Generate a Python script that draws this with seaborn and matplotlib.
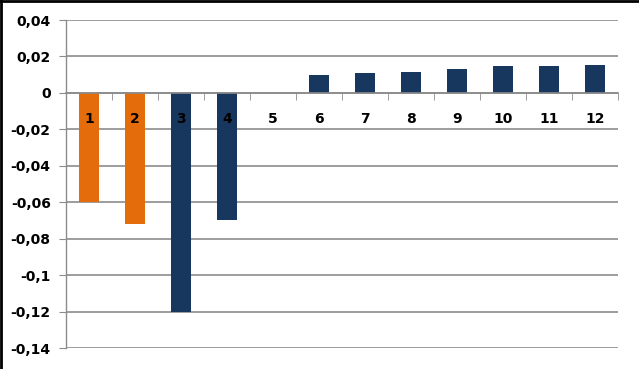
import matplotlib
matplotlib.use("Agg")
import matplotlib.pyplot as plt
import matplotlib.ticker as mticker
from matplotlib.lines import Line2D
import seaborn as sns
import pandas as pd

# Data
categories = ["1", "2", "3", "4", "5", "6", "7", "8", "9", "10", "11", "12"]
values = [-0.06, -0.072, -0.12, -0.07, 0.0, 0.01, 0.011, 0.0115, 0.013, 0.0145, 0.0145, 0.0152]
bar_colors = ["#E46C0A", "#E46C0A"] + ["#17375E"] * 10
y_ticks = [0.04, 0.02, 0, -0.02, -0.04, -0.06, -0.08, -0.1, -0.12, -0.14]

df = pd.DataFrame({"cat": categories, "val": values})

sns.set_style("white")
plt.rcParams["font.family"] = ["DejaVu Sans"]

dpi = 100
fig = plt.figure(figsize=(639 / dpi, 369 / dpi), dpi=dpi)
ax = fig.add_axes([66 / 639, 1 - 348 / 369, 552 / 639, 328 / 369])

sns.barplot(data=df, x="cat", y="val", hue="cat", palette=bar_colors,
            legend=False, width=0.43, saturation=1, linewidth=0,
            ax=ax, order=categories)

ax.set_ylim(-0.14, 0.04)
ax.set_xlim(-0.5, len(categories) - 0.5)
ax.set_yticks(y_ticks)
ax.yaxis.set_major_formatter(
    mticker.FuncFormatter(lambda v, p: f"{round(v, 3):g}".replace(".", ",")))

# gridlines under the bars, x labels above them
ax.set_axisbelow(True)
ax.yaxis.grid(True, color="#8c8c8c", linewidth=1.2)
ax.xaxis.set_zorder(5)

# spines
for s in ["top", "right"]:
    ax.spines[s].set_visible(False)
ax.spines["bottom"].set_position(("data", 0))
ax.spines["bottom"].set_color("#8c8c8c")
ax.spines["bottom"].set_linewidth(1.2)
ax.spines["left"].set_color("#8c8c8c")
ax.spines["left"].set_linewidth(1.0)

# ticks
ax.tick_params(axis="y", which="major", length=5, color="#8c8c8c", pad=6,
               labelsize=10, labelcolor="black", left=True)
ax.tick_params(axis="x", which="major", length=0, pad=14, labelsize=10,
               labelcolor="black")
ax.xaxis.set_minor_locator(mticker.FixedLocator([i + 0.5 for i in range(len(categories))]))
ax.tick_params(axis="x", which="minor", length=5, color="#8c8c8c", bottom=True,
               direction="out")
for lbl in ax.get_xticklabels() + ax.get_yticklabels():
    lbl.set_fontweight("bold")

ax.set_xlabel("")
ax.set_ylabel("")

# outer frame (left and top edges)
fig.add_artist(Line2D([0.002, 0.002], [0, 1], transform=fig.transFigure,
                      color="black", linewidth=2))
fig.add_artist(Line2D([0, 1], [0.998, 0.998], transform=fig.transFigure,
                      color="black", linewidth=2))

fig.savefig("out.png", dpi=dpi)
